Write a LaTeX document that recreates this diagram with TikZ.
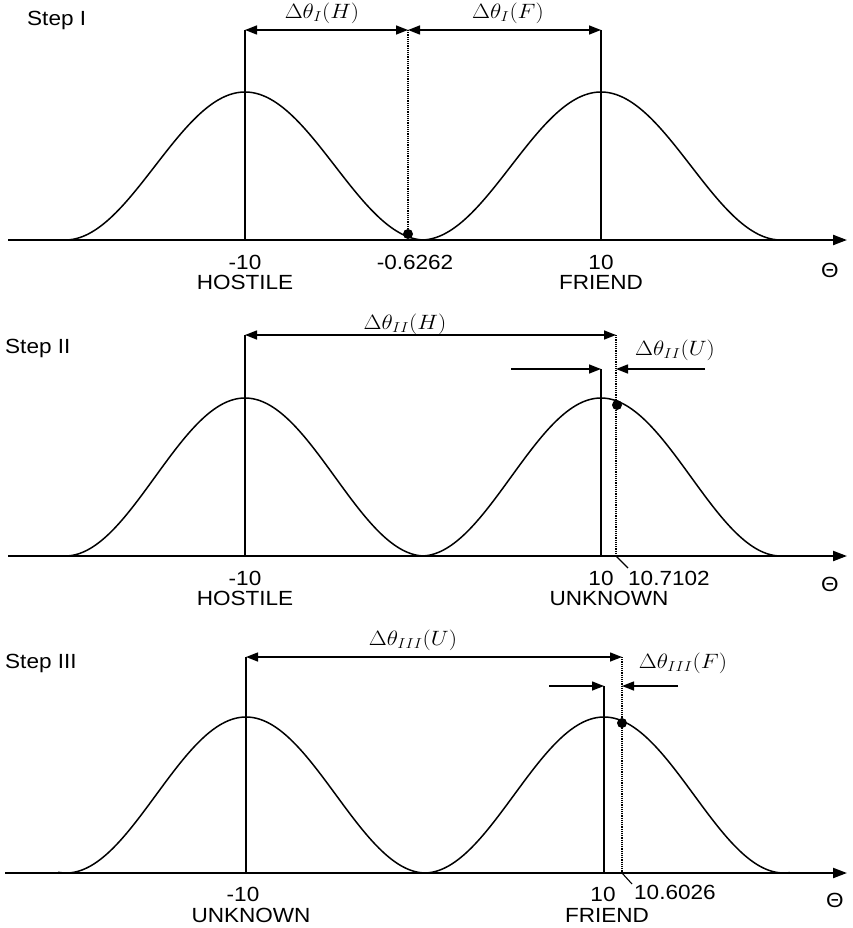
\documentclass[tikz,border=0pt]{standalone}
\usepackage{fontspec}
\setmainfont{Liberation Sans}[FakeStretch=1.1]
\usetikzlibrary{arrows.meta}
\tikzset{
  axisline/.style={line width=2.2pt,-{Triangle[length=14pt,width=10pt]}},
  bump/.style={line width=1.5pt},
  vline/.style={line width=1.2pt},
  dotline/.style={line width=1.2pt,densely dotted},
  dimboth/.style={line width=1.4pt,{Triangle[length=12pt,width=9pt]}-{Triangle[length=12pt,width=9pt]}},
  dimone/.style={line width=1.4pt,-{Triangle[length=12pt,width=9pt]}},
  leader/.style={line width=1.1pt},
  txt/.style={inner sep=0pt,font=\fontsize{20.5}{22}\selectfont},
  mlbl/.style={inner sep=0pt,font=\fontsize{20.5}{22}\selectfont},
  ptdot/.style={fill=black}
}
\newcommand{\wideM}[1]{\scalebox{1.12}[1]{$#1$}}
\begin{document}
\begin{tikzpicture}[x=1pt,y=-1pt]
\useasboundingbox (0,0) rectangle (852,928);
% ================= Step I =================
\coordinate (axL1) at (8,240);
\coordinate (axR1) at (847,240);
\draw[axisline] (axL1) -- (axR1);
\draw[bump] plot[domain=-182:178,samples=150] ({245+\x},{240-148*(1+cos(\x))/2});
\draw[bump] plot[domain=-178:182,samples=150] ({601+\x},{240-148*(1+cos(\x))/2});
\coordinate (h1top) at (245,30);
\coordinate (h1ax) at (245,240);
\coordinate (f1top) at (601,30);
\coordinate (f1ax) at (601,240);
\coordinate (m1top) at (408,30);
\coordinate (m1dot) at (408,234);
\draw[vline] (h1top) -- (h1ax);
\draw[vline] (f1top) -- (f1ax);
\draw[dotline] (m1top) -- (m1dot);
\draw[dimboth] (h1top) -- (m1top);
\draw[dimboth] (m1top) -- (f1top);
\fill[ptdot] (m1dot) circle (5);
\node[mlbl] (lH1) at (322,13) {\wideM{\Delta\theta_{I}(H)}};
\node[mlbl] (lF1) at (508,13) {\wideM{\Delta\theta_{I}(F)}};
\node[txt,anchor=west] (s1) at (27,20) {Step I};
\node[txt] (a1) at (245,262) {-10};
\node[txt] (b1) at (245,282) {HOSTILE};
\node[txt] (c1) at (415,262) {-0.6262};
\node[txt] (d1) at (601,262) {10};
\node[txt] (e1) at (601,282) {FRIEND};
\node[txt] (t1) at (830,270) {Θ};
% ================= Step II =================
\coordinate (axL2) at (8,556);
\coordinate (axR2) at (847,556);
\draw[axisline] (axL2) -- (axR2);
\draw[bump] plot[domain=-184:178,samples=150] ({245+\x},{556-158*(1+cos(\x))/2});
\draw[bump] plot[domain=-178:182,samples=150] ({601+\x},{556-158*(1+cos(\x))/2});
\coordinate (h2top) at (245,335);
\coordinate (h2ax) at (245,556);
\coordinate (u2top) at (601,369);
\coordinate (u2ax) at (601,556);
\coordinate (m2top) at (616,335);
\coordinate (m2mid) at (616,369);
\coordinate (m2ax) at (616,556);
\coordinate (l2start) at (511,369);
\coordinate (r2start) at (705,369);
\coordinate (m2dot) at (617,405);
\coordinate (ld2) at (628,568);
\draw[vline] (h2top) -- (h2ax);
\draw[vline] (u2top) -- (u2ax);
\draw[dotline] (m2top) -- (m2ax);
\draw[dimboth] (h2top) -- (m2top);
\draw[dimone] (l2start) -- (u2top);
\draw[dimone] (r2start) -- (m2mid);
\fill[ptdot] (m2dot) circle (5);
\draw[leader] (m2ax) -- (ld2);
\node[mlbl] (lH2) at (405,324) {\wideM{\Delta\theta_{II}(H)}};
\node[mlbl] (lU2) at (675,350) {\wideM{\Delta\theta_{II}(U)}};
\node[txt,anchor=west] (s2) at (5,348) {Step II};
\node[txt] (a2) at (245,578) {-10};
\node[txt] (b2) at (245,598) {HOSTILE};
\node[txt] (d2) at (601,578) {10};
\node[txt,anchor=west] (c2) at (628,578) {10.7102};
\node[txt] (e2) at (609,598) {UNKNOWN};
\node[txt] (t2) at (830,584) {Θ};
% ================= Step III =================
\coordinate (axL3) at (5,873);
\coordinate (axR3) at (847,873);
\draw[axisline] (axL3) -- (axR3);
\draw[bump] plot[domain=-188:177,samples=150] ({246+\x},{873-156*(1+cos(\x))/2});
\draw[bump] plot[domain=-180:186,samples=150] ({604+\x},{873-156*(1+cos(\x))/2});
\coordinate (u3top) at (246,657);
\coordinate (u3ax) at (246,873);
\coordinate (f3top) at (604,686);
\coordinate (f3ax) at (604,873);
\coordinate (m3top) at (622,657);
\coordinate (m3mid) at (622,686);
\coordinate (m3ax) at (622,873);
\coordinate (l3start) at (549,686);
\coordinate (r3start) at (678,686);
\coordinate (m3dot) at (622,723);
\coordinate (ld3) at (632,884);
\draw[vline] (u3top) -- (u3ax);
\draw[vline] (f3top) -- (f3ax);
\draw[dotline] (m3top) -- (m3ax);
\draw[dimboth] (u3top) -- (m3top);
\draw[dimone] (l3start) -- (f3top);
\draw[dimone] (r3start) -- (m3mid);
\fill[ptdot] (m3dot) circle (5);
\draw[leader] (m3ax) -- (ld3);
\node[mlbl] (lU3) at (413,640) {\wideM{\Delta\theta_{III}(U)}};
\node[mlbl] (lF3) at (683,663) {\wideM{\Delta\theta_{III}(F)}};
\node[txt,anchor=west] (s3) at (5,663) {Step III};
\node[txt] (a3) at (243,894) {-10};
\node[txt] (b3) at (251,915) {UNKNOWN};
\node[txt] (d3) at (603,894) {10};
\node[txt,anchor=west] (c3) at (634,892) {10.6026};
\node[txt] (e3) at (607,915) {FRIEND};
\node[txt] (t3) at (835,900) {Θ};
\end{tikzpicture}
\end{document}
